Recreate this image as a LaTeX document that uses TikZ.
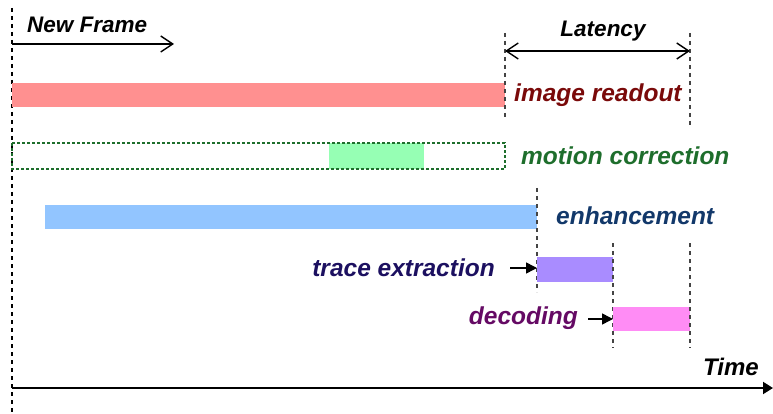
\documentclass[tikz,border=0pt]{standalone}
\usepackage{fontspec}
\setmainfont{Liberation Sans}
\usetikzlibrary{arrows.meta}
\definecolor{cred}{HTML}{FF9090}
\definecolor{tred}{HTML}{7A0A0A}
\definecolor{cgreen}{HTML}{96FFB4}
\definecolor{tgreen}{HTML}{1E6E2C}
\definecolor{cblue}{HTML}{92C5FF}
\definecolor{tblue}{HTML}{12386A}
\definecolor{cviolet}{HTML}{A98CFF}
\definecolor{tnavy}{HTML}{1C1060}
\definecolor{cpink}{HTML}{FF8CF5}
\definecolor{tpurple}{HTML}{650A64}
\definecolor{dgray}{HTML}{444444}
\tikzset{
  lbl/.style={font=\fontsize{24.5}{28}\selectfont\bfseries\itshape, inner sep=0pt},
  blbl/.style={font=\fontsize{22.5}{26}\selectfont\bfseries\itshape, inner sep=0pt, text=black},
  guide/.style={draw=dgray, line width=1.3pt, dash pattern=on 4pt off 4pt},
  barb/.style={line width=1.4pt},
  small arrow/.style={-{Triangle[length=11pt,width=11pt]}, line width=1.5pt},
}
\begin{document}
\begin{tikzpicture}[x=1pt,y=-1pt]
\useasboundingbox (0,0) rectangle (773,414);
% main dashed guide
\coordinate (gtop) at (12,8);
\coordinate (gbot) at (12,414);
\draw[guide, draw=black] (gtop) -- (gbot);
% New Frame
\node[blbl, anchor=west] (nf) at (27,25) {New Frame};
\coordinate (nfa) at (12,44);
\coordinate (nfb) at (174,44);
\draw[barb, -{Straight Barb[length=12pt,width=16pt]}] (nfa) -- (nfb);
% image readout
\fill[cred] (12,83) rectangle (505,107);
\node[lbl, text=tred, anchor=west] (ir) at (514,95) {image readout};
% latency
\coordinate (l1t) at (505,33); \coordinate (l1b) at (505,117);
\coordinate (l2t) at (690,33); \coordinate (l2b) at (690,128);
\draw[guide] (l1t) -- (l1b);
\draw[guide] (l2t) -- (l2b);
\coordinate (la) at (505,51); \coordinate (lb) at (690,51);
\draw[barb, {Straight Barb[length=12pt,width=16pt]}-{Straight Barb[length=12pt,width=16pt]}] (la) -- (lb);
\node[blbl] (lat) at (603,31) {Latency};
% motion correction
\fill[cgreen] (329,143) rectangle (424,169);
\draw[tgreen, line width=1.1pt, dash pattern=on 3pt off 2pt] (12,143) rectangle (505,169);
\node[lbl, text=tgreen, anchor=west] (mc) at (521,156) {motion correction};
% enhancement
\fill[cblue] (45,205) rectangle (537,229);
\node[lbl, text=tblue, anchor=west] (en) at (556,216) {enhancement};
\coordinate (e1t) at (537,188); \coordinate (e1b) at (537,292);
\draw[guide] (e1t) -- (e1b);
% trace extraction
\fill[cviolet] (537,257) rectangle (613,282);
\node[lbl, text=tnavy, anchor=east] (te) at (495,268) {trace extraction};
\coordinate (tea) at (510,268); \coordinate (teb) at (537,268);
\draw[small arrow] (tea) -- (teb);
\coordinate (t2t) at (613,243); \coordinate (t2b) at (613,348);
\draw[guide] (t2t) -- (t2b);
% decoding
\fill[cpink] (613,307) rectangle (690,331);
\node[lbl, text=tpurple, anchor=east] (de) at (578,318) {decoding};
\coordinate (dea) at (588,319); \coordinate (deb) at (613,319);
\draw[small arrow] (dea) -- (deb);
\coordinate (d2t) at (690,243); \coordinate (d2b) at (690,348);
\draw[guide] (d2t) -- (d2b);
% time axis
\coordinate (ta) at (12,388); \coordinate (tb) at (773,388);
\draw[-{Triangle[length=10pt,width=12pt]}, line width=2pt] (ta) -- (tb);
\node[font=\fontsize{24}{28}\selectfont\bfseries\itshape, inner sep=0pt, anchor=east] (tm) at (759,367) {Time};
\end{tikzpicture}
\end{document}
